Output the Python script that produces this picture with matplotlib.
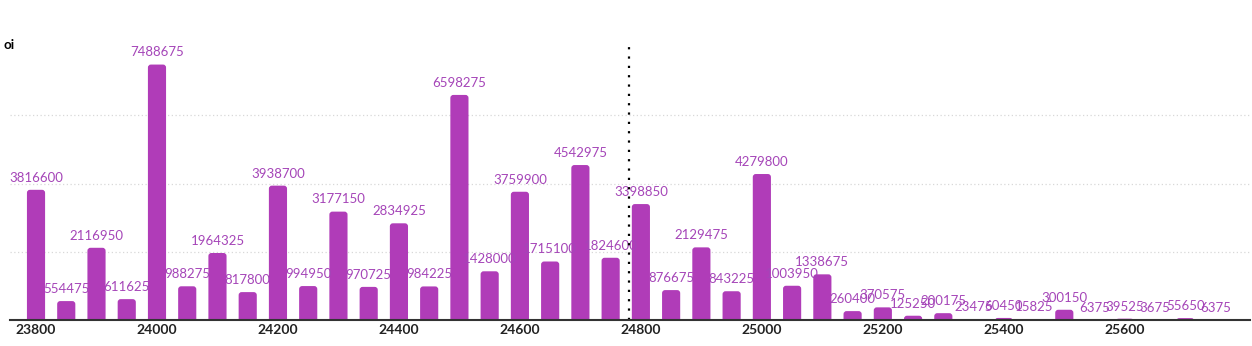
import numpy as np
import matplotlib.pyplot as plt
from matplotlib.patches import FancyBboxPatch

strikes = np.arange(23800, 25800, 50)
oi = [3816600, 554475, 2116950, 611625, 7488675, 988275, 1964325, 817800,
      3938700, 994950, 3177150, 970725, 2834925, 984225, 6598275, 1428000,
      3759900, 1715100, 4542975, 1824600, 3398850, 876675, 2129475, 843225,
      4279800, 1003950, 1338675, 260400, 370575, 125250, 200175, 23475,
      60450, 15825, 300150, 6375, 39525, 3675, 55650, 6375]
spot = 24780
xticks = [23800, 24000, 24200, 24400, 24600, 24800, 25000, 25200, 25400, 25600]

plt.rcParams['font.family'] = ['Lato', 'DejaVu Sans']

fig = plt.figure(figsize=(12.52, 3.46), dpi=100)
ax = fig.add_axes([10 / 1252, 26 / 346, 1240 / 1252, 278 / 346])

xmin, xmax, ymax = 23757, 25807, 8150000
ax.set_xlim(xmin, xmax)
ax.set_ylim(0, ymax)

# rounded bar tops: convert pixel radius into data units
x_per_px = (xmax - xmin) / 1240
y_per_px = ymax / 278
bar_color = '#b03cb8'
for x, v in zip(strikes, oi):
    r = 3 * x_per_px
    box = FancyBboxPatch((x - 15, -300000), 30, v + 300000,
                         boxstyle='round,pad=0,rounding_size=%f' % r,
                         mutation_aspect=y_per_px / x_per_px,
                         facecolor=bar_color, edgecolor='none', zorder=3)
    ax.add_patch(box)
    ax.text(x, v + 180000, str(v), ha='center', va='bottom',
            fontsize=9.5, color='#a545b8', zorder=4)

ax.axvline(spot, ymax=0.985, color='black', linestyle=(0, (1, 3.2)), linewidth=1.6, zorder=5)

ax.set_yticks([2000000, 4000000, 6000000])
ax.set_yticklabels([])
ax.tick_params(axis='y', length=0)
ax.grid(axis='y', color='#d8d8d8', linestyle=(0, (1, 2)), linewidth=0.9, zorder=0)

ax.set_xticks(xticks)
ax.set_xticklabels([str(t) for t in xticks], fontsize=10, fontweight='bold', color='#222222')
ax.tick_params(axis='x', length=0, pad=3)

for s in ['top', 'right', 'left']:
    ax.spines[s].set_visible(False)
ax.spines['bottom'].set_color('#333333')
ax.spines['bottom'].set_linewidth(1.5)
ax.spines['bottom'].set_zorder(6)

fig.text(4 / 1252, 1 - 45 / 346, 'oi', fontsize=9.5, fontweight='bold', va='center', ha='left')

fig.savefig('out.png', dpi=100)
